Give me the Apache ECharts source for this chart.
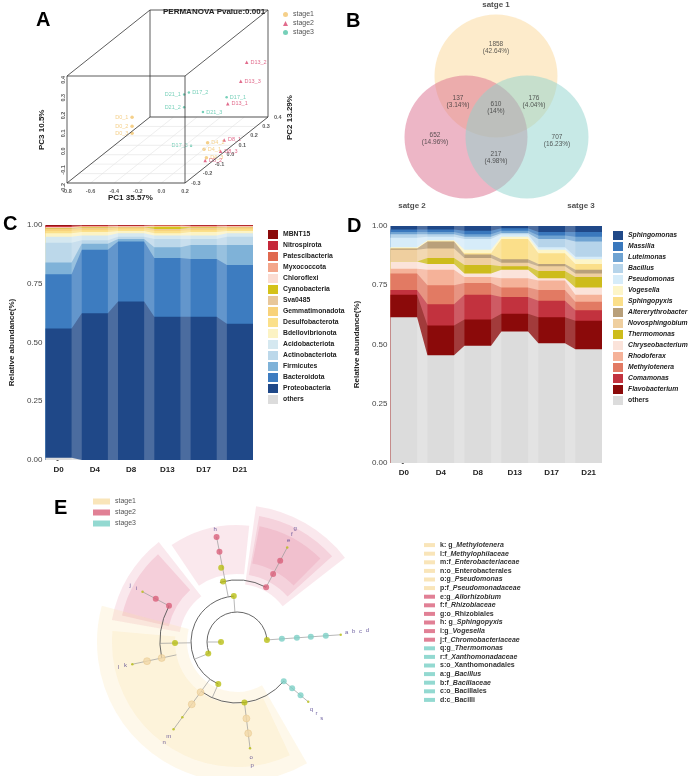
<!DOCTYPE html>
<html>
<head>
<meta charset="utf-8">
<script src="https://cdn.jsdelivr.net/npm/echarts@6/dist/echarts.min.js"></script>
<style>
body{margin:0;background:#fff;font-family:"Liberation Sans",Arial,sans-serif;}
.p{position:absolute;}
.lt{position:absolute;font:bold 20px "Liberation Sans",Arial,sans-serif;}
</style>
</head>
<body>
<div class="p" id="A" style="left:0;top:0;width:345px;height:215px"></div>
<div class="p" id="B" style="left:345px;top:0;width:346px;height:215px"></div>
<div class="p" id="D" style="left:345px;top:215px;width:346px;height:270px"></div>
<div class="p" id="C" style="left:0;top:215px;width:352px;height:270px"></div>
<div class="p" id="E" style="left:0;top:490px;width:691px;height:286px"></div>
<div class="lt" style="left:36px;top:8px">A</div>
<div class="lt" style="left:346px;top:9px">B</div>
<div class="lt" style="left:3px;top:212px">C</div>
<div class="lt" style="left:347px;top:214px">D</div>
<div class="lt" style="left:54px;top:496px">E</div>
<script>
// ---- data ----
var stages = ['stage1', 'stage2', 'stage3'];
var stageColors = ['#f2c46d', '#d9466f', '#54c4a7'];
// PCoA samples: name, stage index, PC1, PC2, PC3
var pcoaNames = ['D0_1','D0_2','D0_3','D4_1','D4_2','D4_3','D8_1','D8_2','D8_3','D13_1','D13_2','D13_3','D17_1','D17_2','D17_3','D21_1','D21_2','D21_3'];
var pcoaStage = [0,0,0,0,0,0,1,1,1,1,1,1,2,2,2,2,2,2];
var pc1 = [-0.55,-0.55,-0.55,0.06,0.04,0.13,0.13,0.17,0.2,0.06,0.12,0.12,0.0,-0.37,-0.05,-0.39,-0.31,-0.1];
var pc2 = [0,0,0,0,0.05,-0.05,0.1,-0.1,0,0.2,0.3,0.25,0.25,0.3,0,0.28,0.2,0.15];
var pc3 = [0.01,-0.04,-0.08,-0.17,-0.16,-0.19,-0.17,-0.18,-0.18,-0.02,0.16,0.08,-0.01,-0.01,-0.15,-0.01,-0.04,-0.04];
var pc1Ticks = [-0.8,-0.6,-0.4,-0.2,0.0,0.2];
var pc2Ticks = [-0.3,-0.2,-0.1,0.0,0.1,0.2,0.3,0.4];
var pc3Ticks = [-0.2,-0.1,0.0,0.1,0.2,0.3,0.4];

var vennCounts = ['1858','137','610','176','652','217','707'];
var vennPercents = ['42.64%','3.14%','14%','4.04%','14.96%','4.98%','16.23%'];
var vennSets = ['satge 1', 'satge 2', 'satge 3'];

var days = ['D0','D4','D8','D13','D17','D21'];
var phylaNames = ['others','Proteobacteria','Bacteroidota','Firmicutes','Actinobacteriota','Acidobacteriota','Bdellovibrionota','Desulfobacterota','Gemmatimonadota','Sva0485','Cyanobacteria','Chloroflexi','Myxococcota','Patescibacteria','Nitrospirota','MBNT15'];
var phylaValues = [
  [0.01,0,0,0,0,0],
  [0.55,0.625,0.675,0.61,0.61,0.58],
  [0.23,0.27,0.255,0.25,0.245,0.25],
  [0.05,0.025,0.01,0.045,0.06,0.085],
  [0.085,0.015,0.01,0.035,0.025,0.035],
  [0.025,0.02,0.015,0.015,0.015,0.015],
  [0.015,0.015,0.01,0.01,0.015,0.01],
  [0.01,0.008,0.007,0.01,0.008,0.007],
  [0.007,0.007,0.006,0.005,0.007,0.006],
  [0.003,0.003,0.002,0.003,0.003,0.002],
  [0.002,0.002,0.002,0.01,0.002,0.002],
  [0.002,0.003,0.002,0.002,0.003,0.002],
  [0.002,0.002,0.002,0.002,0.002,0.002],
  [0.002,0.002,0.001,0.001,0.002,0.001],
  [0.004,0.001,0.001,0.001,0.001,0.001],
  [0.003,0.002,0.002,0.001,0.002,0.002]
];
var phylaColors = ['#dcdcdc','#1f4888','#3d7cc0','#7fb2d8','#bcd8ea','#d5e8f0','#fcf3c4','#fbe08a','#f8d27a','#e8c79a','#d4c21a','#fbdcd2','#f3a68b','#e0694f','#c5283a','#8b0a0a'];

var genusNames = ['others','Flavobacterium','Comamonas','Methylotenera','Rhodoferax','Chryseobacterium','Thermomonas','Novosphingobium','Altererythrobacter','Sphingopyxis','Vogesella','Pseudomonas','Bacillus','Luteimonas','Massilia','Sphingomonas'];
var genusValues = [
  [0.615,0.455,0.495,0.555,0.505,0.48],
  [0.095,0.125,0.11,0.075,0.11,0.12],
  [0.02,0.09,0.105,0.07,0.07,0.045],
  [0.07,0.08,0.05,0.04,0.045,0.035],
  [0.02,0.065,0.025,0.04,0.04,0.03],
  [0.03,0.025,0.015,0.035,0.01,0.03],
  [0.0,0.025,0.035,0.015,0.03,0.045],
  [0.05,0.04,0.03,0.015,0.02,0.015],
  [0.005,0.03,0.015,0.015,0.01,0.015],
  [0.0,0.0,0.005,0.085,0.045,0.025],
  [0.005,0.005,0.015,0.01,0.015,0.02],
  [0.04,0.015,0.045,0.01,0.01,0.01],
  [0.015,0.01,0.01,0.005,0.035,0.065],
  [0.01,0.01,0.01,0.01,0.015,0.02],
  [0.01,0.01,0.015,0.01,0.015,0.02],
  [0.015,0.015,0.02,0.01,0.025,0.025]
];
var genusColors = ['#dcdcdc','#8b0a0a','#c2323e','#e27a63','#f5b299','#fbe3da','#cdbc1c','#efcf9f','#b9a07a','#fbdf8a','#fdf5c8','#d6ecf9','#b6d4ea','#6fa3d2','#3a78bd','#1f4888'];

// cladogram: branches [angle, r0, r1], nodes [r, angle, size, kind], arcs [r, a0, a1]
var cladeKindColors = ['#b9bf15','#f3d8a8','#d9607a','#7ccfc5'];
var cladeSegments = [[4,30,104],[320,61,93],[62,62,107],[101,46,107],[152,77,107],[192,62,108],[234,46,108],[277,61,108],[180,16,30],[202,30,46],[181,46,77],[94,30,46],[246,46,61]];
var cladeArcs = [[30,4,202],[46,94,246],[62,62,106],[77,152,192],[61,234,320]];
var cladeNodes = [
  [30,4,6,0],[45,4,6,3],[60,4,6,3],[74,4,6,3],[89,4,6,3],[104,4,2.5,0],
  [61,320,6,3],[72,320,6,3],[83,320,6,3],[93,320,2.5,0],
  [62,62,6,2],[77,62,6,2],[92,62,6,2],[107,62,2.5,0],
  [62,103,6,0],[76,102,6,0],[92,101,6,2],[107,101,6,2],
  [77,152,6,2],[92,152,6,2],[107,152,2.5,0],
  [62,181,6,0],[77,192,7,1],[92,192,7,1],[107,192,2.5,0],
  [46,246,6,0],[62,234,7,1],[77,234,7,1],[93,234,2.5,0],[108,234,2.5,0],
  [61,277,6,0],[77,277,7,1],[92,277,7,1],[107,277,2.5,0],
  [16,180,6,0],[31,202,6,0],[46,94,6,0]
];
var cladeLetters = [['a',110,5],['b',117,5],['c',124,5],['d',131,5],['q',100,318],['r',107,318],['s',114,318],['e',114,63],['f',121,63],['g',128,63],['h',115,101],['i',114,152],['j',121,152],['k',114,192],['l',121,192],['m',116,234],['n',124,234],['o',116,277],['p',124,277]];
var cladeSectors = [
  [38,82,58,137,'rgba(226,120,150,0.17)'],[42,80,68,128,'rgba(226,120,150,0.2)'],[45,79,80,118,'rgba(226,120,150,0.2)'],
  [84,124,68,117,'rgba(226,120,150,0.17)'],
  [128,170,58,127,'rgba(226,120,150,0.17)'],[132,167,70,118,'rgba(226,120,150,0.22)'],
  [165,300,50,140,'rgba(250,222,160,0.22)'],[175,295,62,125,'rgba(250,222,160,0.22)']
];
var biomarkers = [
  ['k: g_','Methylotenera',0],['l:f_','Methylophilaceae',0],['m:f_','Enterobacteriaceae',0],['n:o_Enterobacterales','',0],
  ['o:g_','Pseudomonas',0],['p:f_','Pseudomonadaceae',0],['e:g_','Allorhizobium',1],['f:f_','Rhizobiaceae',1],
  ['g:o_Rhizobiales','',1],['h: g_','Sphingopyxis',1],['i:g_','Vogesella',1],['j:f_','Chromobacteriaceae',1],
  ['q:g_','Thermomonas',2],['r:f_','Xanthomonadaceae',2],['s:o_Xanthomonadales','',2],['a:g_','Bacillus',2],
  ['b:f_','Bacillaceae',2],['c:o_Bacillales','',2],['d:c_Bacilli','',2]
];
var cladeStageColors = ['#f8dfa7','#d9607a','#78cfc6'];

var FONT = '"Liberation Sans", Arial, sans-serif';

// ---- A: 3D PCoA (oblique projection) ----
function project(a, b, c) {
  return [67 + (a + 0.8) * 118 + (b + 0.3) / 0.7 * 83,
          183 - (c + 0.2) / 0.6 * 107 - (b + 0.3) / 0.7 * 66];
}
(function () {
  var chart = echarts.init(document.getElementById('A'));
  var series = [];
  var X = [-0.8, 0.2], Y = [-0.3, 0.4], Z = [-0.2, 0.4];
  var edges = [];
  [0,1].forEach(function (j) { [0,1].forEach(function (k) {
    edges.push([project(X[0],Y[j],Z[k]), project(X[1],Y[j],Z[k])]);
    edges.push([project(X[j],Y[0],Z[k]), project(X[j],Y[1],Z[k])]);
    edges.push([project(X[j],Y[k],Z[0]), project(X[j],Y[k],Z[1])]);
  }); });
  var floor = [];
  pc1Ticks.forEach(function (t) { floor.push([project(t,Y[0],Z[0]), project(t,Y[1],Z[0])]); });
  pc2Ticks.forEach(function (t) { floor.push([project(X[0],t,Z[0]), project(X[1],t,Z[0])]); });
  floor.forEach(function (e) {
    series.push({type:'line', data:e, symbol:'none', silent:true, lineStyle:{color:'#e2e2e2', width:0.6}});
  });
  edges.forEach(function (e) {
    series.push({type:'line', data:e, symbol:'none', silent:true, lineStyle:{color:'#333', width:0.8}});
  });
  var tickStyle = {show:true, fontSize:5.5, color:'#333', fontWeight:'bold', fontFamily:FONT};
  series.push({type:'scatter', symbolSize:0, data:pc1Ticks.map(function (t) { return project(t,Y[0],Z[0]); }),
    label:Object.assign({position:'bottom', distance:5, formatter:function (p) { return pc1Ticks[p.dataIndex].toFixed(1); }}, tickStyle)});
  series.push({type:'scatter', symbolSize:0, data:pc3Ticks.map(function (t) { return project(X[0],Y[0],t); }),
    label:Object.assign({position:'left', distance:4, rotate:90, formatter:function (p) { return pc3Ticks[p.dataIndex].toFixed(1); }}, tickStyle)});
  series.push({type:'scatter', symbolSize:0, data:pc2Ticks.map(function (t) { return project(X[1],t,Z[0]); }),
    label:Object.assign({position:'right', distance:6, formatter:function (p) { return pc2Ticks[p.dataIndex].toFixed(1); }}, tickStyle)});
  var leftLabels = ['D21_1','D21_2','D17_3','D0_1','D0_2','D0_3'];
  stages.forEach(function (s, si) {
    var pts = [];
    pcoaNames.forEach(function (n, i) {
      if (pcoaStage[i] === si) pts.push({value:project(pc1[i],pc2[i],pc3[i]), name:n,
        label:{position: leftLabels.indexOf(n) >= 0 ? 'left' : 'right'}});
    });
    series.push({type:'scatter', name:s, data:pts, symbol: si === 1 ? 'triangle' : 'circle',
      symbolSize: si === 2 ? 2.5 : 3.5, itemStyle:{color:stageColors[si]},
      label:{show:true, formatter:'{b}', fontSize:5.5, color:stageColors[si], distance:2, fontFamily:FONT}});
  });
  chart.setOption({
    animation:false,
    textStyle:{fontFamily:FONT},
    title:{text:'PERMANOVA Pvalue:0.001', left:158, top:3, textStyle:{fontSize:8, fontWeight:'bold', color:'#222'}},
    legend:{data:stages.map(function (s, i) { return {name:s, icon: i === 1 ? 'triangle' : 'circle'}; }),
      orient:'vertical', left:278, top:6, itemWidth:5, itemHeight:5, itemGap:2, textStyle:{fontSize:7, color:'#555'}},
    grid:{left:0, top:0, right:0, bottom:0},
    xAxis:{type:'value', min:0, max:345, show:false},
    yAxis:{type:'value', min:0, max:215, inverse:true, show:false},
    graphic:[
      {type:'text', left:108, top:194, style:{text:'PC1 35.57%', font:'bold 8px ' + FONT, fill:'#222'}},
      {type:'text', x:38, y:150, rotation:Math.PI/2, style:{text:'PC3 10.5%', font:'bold 8px ' + FONT, fill:'#222'}},
      {type:'text', x:286, y:140, rotation:Math.PI/2, style:{text:'PC2 13.29%', font:'bold 8px ' + FONT, fill:'#222'}}
    ],
    series:series
  });
})();

// ---- B: Venn ----
(function () {
  var chart = echarts.init(document.getElementById('B'));
  var centers = [[151,76],[121,137],[182,137]];
  var fills = ['#fbd898','#dc6e8e','#8fd3ce'];
  var labelPos = [[151,48],[113,102],[151,108],[189,102],[90,139],[151,158],[212,141]];
  var titlePos = [[151,5],[67,206],[236,206]];
  chart.setOption({
    animation:false,
    grid:{left:0, top:0, right:0, bottom:0},
    xAxis:{type:'value', min:0, max:346, show:false},
    yAxis:{type:'value', min:0, max:215, inverse:true, show:false},
    series:[
      {type:'scatter', silent:true, symbolSize:123,
        data:centers.map(function (c, i) { return {value:c, itemStyle:{color:fills[i], opacity:0.5}}; })},
      {type:'scatter', symbolSize:0, data:labelPos,
        label:{show:true, position:'inside', fontSize:6.5, lineHeight:7, color:'#333', fontFamily:FONT,
          formatter:function (p) { return vennCounts[p.dataIndex] + '\n(' + vennPercents[p.dataIndex] + ')'; }}},
      {type:'scatter', symbolSize:0, data:titlePos,
        label:{show:true, position:'inside', fontSize:8, fontWeight:'bold', color:'#222', fontFamily:FONT,
          formatter:function (p) { return vennSets[p.dataIndex]; }}}
    ]
  });
})();

// ---- C & D: stacked area (cumulative tops, drawn top layer first) ----
var HALF = 0.36;
function stepData(vals) {
  var out = [];
  vals.forEach(function (v, i) { out.push([i - HALF, v]); out.push([i + HALF, v]); });
  return out;
}
function drawStack(id, names, values, colors, italic) {
  var chart = echarts.init(document.getElementById(id));
  var cum = [], run = days.map(function () { return 0; });
  values.forEach(function (v) {
    run = run.map(function (r, j) { return r + v[j]; });
    cum.push(run.slice());
  });
  var series = [];
  for (var i = names.length - 1; i >= 0; i--) {
    series.push({type:'line', name:names[i], data:stepData(cum[i].map(function (v) { return Math.min(v, 1); })),
      symbol:'none', lineStyle:{width:0, opacity:0}, areaStyle:{color:colors[i], opacity:1}, itemStyle:{color:colors[i]}});
  }
  var bands = [];
  for (var k = 0; k < days.length - 1; k++) bands.push([{xAxis:k + HALF}, {xAxis:k + 1 - HALF}]);
  series.push({type:'line', name:'_bands', data:[[-HALF, 1], [days.length - 1 + HALF, 1]], symbol:'none',
    lineStyle:{width:0, opacity:0}, z:10, zlevel:0, silent:true,
    markArea:{silent:true, z:10, itemStyle:{color:'rgba(255,255,255,0.2)'}, data:bands}});
  chart.setOption({
    animation:false,
    textStyle:{fontFamily:FONT},
    grid:{left:38, right:id === 'C' ? 99 : 89, top:id === 'C' ? 10 : 11, height:id === 'C' ? 235 : 237},
    legend:{data:names.slice().reverse(), orient:'vertical', left:263, top:id === 'C' ? 10 : 11,
      itemWidth:10, itemHeight:9, itemGap:2, icon:'rect',
      textStyle:{fontSize:6.8, fontWeight:'bold', color:'#222',
        rich:{i:{fontStyle:'italic', fontWeight:'bold', fontSize:6.8, color:'#222'}, n:{fontWeight:'bold', fontSize:6.8, color:'#222'}}},
      formatter:function (n) { return italic && n !== 'others' ? '{i|' + n + '}' : '{n|' + n + '}'; }},
    xAxis:{type:'value', min:-HALF, max:days.length - 1 + HALF, splitLine:{show:false},
      axisLine:{show:false}, axisTick:{show:false},
      axisLabel:{customValues:[0,1,2,3,4,5], formatter:function (v) { return days[Math.round(v)]; },
        fontSize:8, fontWeight:'bold', color:'#222', margin:6}},
    yAxis:{type:'value', min:0, max:1, interval:0.25, splitLine:{show:false},
      axisLine:{show:false}, axisTick:{show:true, length:2, lineStyle:{color:'#555'}},
      axisLabel:{formatter:function (v) { return v.toFixed(2); }, fontSize:8, color:'#444', margin:3},
      name:'Relative abundance(%)', nameLocation:'middle', nameGap:26,
      nameTextStyle:{fontSize:8, fontWeight:'bold', color:'#222'}},
    series:series
  });
}
drawStack('C', phylaNames, phylaValues, phylaColors, false);
drawStack('D', genusNames, genusValues, genusColors, true);

// ---- E: cladogram on polar ----
(function () {
  var chart = echarts.init(document.getElementById('E'));
  var RMAX = 140;
  function pt(cs, r, a) {
    var k = cs.r / RMAX, t = a * Math.PI / 180;
    return [cs.cx + r * k * Math.cos(t), cs.cy - r * k * Math.sin(t)];
  }
  var series = [];
  series.push({type:'custom', coordinateSystem:'polar', silent:true, z:1,
    data:cladeSectors.map(function (s) { return [s[2], s[0]]; }),
    renderItem:function (params, api) {
      var cs = params.coordSys, k = cs.r / RMAX, s = cladeSectors[params.dataIndex];
      return {type:'sector', shape:{cx:cs.cx, cy:cs.cy, r0:s[2] * k, r:s[3] * k,
        startAngle:-s[1] * Math.PI / 180, endAngle:-s[0] * Math.PI / 180, clockwise:true},
        style:{fill:s[4]}};
    }});
  series.push({type:'custom', coordinateSystem:'polar', silent:true, z:2,
    data:cladeArcs.map(function (s) { return [s[0], s[1]]; }),
    renderItem:function (params, api) {
      var cs = params.coordSys, k = cs.r / RMAX, s = cladeArcs[params.dataIndex];
      return {type:'arc', shape:{cx:cs.cx, cy:cs.cy, r:s[0] * k,
        startAngle:-s[2] * Math.PI / 180, endAngle:-s[1] * Math.PI / 180, clockwise:true},
        style:{stroke:'#555', lineWidth:0.9, fill:null}};
    }});
  series.push({type:'custom', coordinateSystem:'polar', silent:true, z:2,
    data:cladeSegments.map(function (s) { return [s[1], s[0]]; }),
    renderItem:function (params, api) {
      var s = cladeSegments[params.dataIndex];
      var p0 = pt(params.coordSys, s[1], s[0]), p1 = pt(params.coordSys, s[2], s[0]);
      return {type:'line', shape:{x1:p0[0], y1:p0[1], x2:p1[0], y2:p1[1]}, style:{stroke:'#999', lineWidth:0.7}};
    }});
  series.push({type:'scatter', coordinateSystem:'polar', z:3,
    data:cladeNodes.map(function (n) {
      return {value:[n[0], n[1]], symbolSize:n[2],
        itemStyle:{color:cladeKindColors[n[3]], borderColor:n[3] === 1 ? '#e2bf80' : 'rgba(0,0,0,0)', borderWidth:0.5}};
    })});
  series.push({type:'scatter', coordinateSystem:'polar', symbolSize:0, z:3,
    data:cladeLetters.map(function (l) { return {value:[l[1], l[2]], name:l[0]}; }),
    label:{show:true, position:'inside', formatter:'{b}', fontSize:6, color:'#4a3a8a', fontFamily:FONT}});
  stages.forEach(function (s, i) {
    series.push({type:'scatter', coordinateSystem:'polar', name:s, data:[], itemStyle:{color:cladeStageColors[i]}});
  });
  biomarkers.forEach(function (b) {
    series.push({type:'scatter', coordinateSystem:'polar', name:b[0] + b[1], data:[], itemStyle:{color:cladeStageColors[b[2]]}});
  });
  chart.setOption({
    animation:false,
    textStyle:{fontFamily:FONT},
    polar:{center:[237, 152], radius:RMAX},
    angleAxis:{type:'value', min:0, max:360, startAngle:0, clockwise:false, show:false},
    radiusAxis:{type:'value', min:0, max:RMAX, show:false},
    legend:[
      {data:stages, orient:'vertical', left:88, top:3, icon:'rect', itemWidth:17, itemHeight:6, itemGap:4,
        textStyle:{fontSize:7, color:'#555'}},
      {data:biomarkers.map(function (b) { return b[0] + b[1]; }), orient:'vertical', left:424, top:51,
        icon:'rect', itemWidth:11, itemHeight:4, itemGap:0.4, padding:0,
        textStyle:{fontSize:7, lineHeight:8.2, fontWeight:'bold', color:'#333',
          rich:{n:{fontSize:7, fontWeight:'bold', color:'#333'}, i:{fontSize:7, fontWeight:'bold', fontStyle:'italic', color:'#333'}}},
        formatter:function (name) {
          for (var i = 0; i < biomarkers.length; i++) {
            if (biomarkers[i][0] + biomarkers[i][1] === name)
              return '{n|' + biomarkers[i][0] + '}' + (biomarkers[i][1] ? '{i|' + biomarkers[i][1] + '}' : '');
          }
          return name;
        }}
    ],
    series:series
  });
})();
</script>
</body>
</html>
